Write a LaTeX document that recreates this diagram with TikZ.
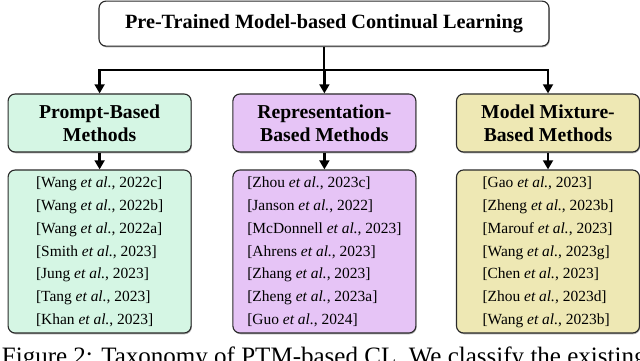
\documentclass[tikz,border=0pt]{standalone}
\usepackage{fontspec}
\setmainfont{Liberation Serif}
\usepackage{tikz}
\usetikzlibrary{positioning,arrows.meta,shadows}
\usepackage{xcolor}
\definecolor{promptc}{HTML}{D5F6E4}
\definecolor{reprc}{HTML}{E6C4F6}
\definecolor{mixc}{HTML}{EEE8B4}
\definecolor{edge}{HTML}{2A2A2A}

\begin{document}
\begin{tikzpicture}[>={Triangle[length=6.5pt,width=7pt]},
    box/.style={draw=edge, line width=0.8pt, rounded corners=5pt,
      drop shadow={shadow xshift=0.5pt, shadow yshift=-0.9pt, opacity=0.45, fill=black!70},
      minimum width=4.575cm, inner sep=0pt, align=center},
    head/.style={box, minimum height=1.45cm, font=\fontsize{14}{16.5}\selectfont\bfseries},
    refs/.style={box, minimum height=4.075cm, font=\fontsize{11}{16.2}\selectfont},
    link/.style={line width=2pt}]
  \useasboundingbox (0,0) rectangle (16,9);
  % root of the taxonomy
  \node[box, fill=white, minimum width=11.25cm, minimum height=1.125cm,
        font=\fontsize{14.4}{17}\selectfont\bfseries]
        (root) at (8.1,8.41) {Pre-Trained Model-based Continual Learning};
  \coordinate (bar) at (8.1,7.25);
  % three families
  \node[head, fill=promptc] (prompt) at (2.49,5.925) {Prompt-Based\\Methods};
  \node[head, fill=reprc] (repr) at (8.11,5.925) {Representation-\\Based Methods};
  \node[head, fill=mixc] (mix) at (13.7,5.925) {Model Mixture-\\Based Methods};
  % works in each family
  \node[refs, fill=promptc] (plist) at (2.49,2.7125) {\begin{tabular}{@{}l@{}}
    {[}Wang \textit{et al.}, 2022c]\\ {[}Wang \textit{et al.}, 2022b]\\ {[}Wang \textit{et al.}, 2022a]\\
    {[}Smith \textit{et al.}, 2023]\\ {[}Jung \textit{et al.}, 2023]\\ {[}Tang \textit{et al.}, 2023]\\
    {[}Khan \textit{et al.}, 2023]\end{tabular}};
  \node[refs, fill=reprc] (rlist) at (8.11,2.7125) {\begin{tabular}{@{}l@{}}
    {[}Zhou \textit{et al.}, 2023c]\\ {[}Janson \textit{et al.}, 2022]\\ {[}McDonnell \textit{et al.}, 2023]\\
    {[}Ahrens \textit{et al.}, 2023]\\ {[}Zhang \textit{et al.}, 2023]\\ {[}Zheng \textit{et al.}, 2023a]\\
    {[}Guo \textit{et al.}, 2024]\end{tabular}};
  \node[refs, fill=mixc] (mlist) at (13.7,2.7125) {\begin{tabular}{@{}l@{}}
    {[}Gao \textit{et al.}, 2023]\\ {[}Zheng \textit{et al.}, 2023b]\\ {[}Marouf \textit{et al.}, 2023]\\
    {[}Wang \textit{et al.}, 2023g]\\ {[}Chen \textit{et al.}, 2023]\\ {[}Zhou \textit{et al.}, 2023d]\\
    {[}Wang \textit{et al.}, 2023b]\end{tabular}};
  % connectors
  \draw[link] (root.south) -- (bar);
  \foreach \c in {prompt,repr,mix} \draw[link,->] (bar) -| (\c.north);
  \draw[link,->] (prompt) -- (plist);
  \draw[link,->] (repr) -- (rlist);
  \draw[link,->] (mix) -- (mlist);
  % caption, cut by the page edge
  \node[anchor=base west, inner sep=0pt, font=\fontsize{17.8}{21}\selectfont]
        (cap) at (0.04,-0.1) {Figure 2: Taxonomy of PTM-based CL. We classify the existing works into three categories};
\end{tikzpicture}
\end{document}
